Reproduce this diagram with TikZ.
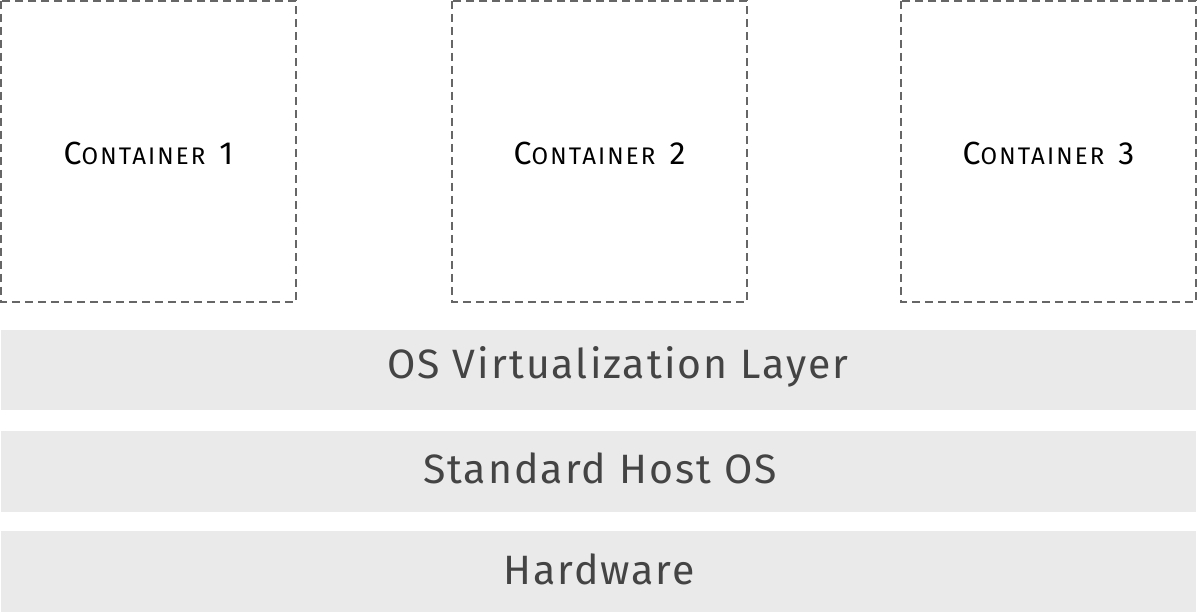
\documentclass[tikz,border=0pt]{standalone}
\usepackage{fontspec}
\setmainfont{Fira Sans}
\definecolor{layerfill}{HTML}{EAEAEA}
\definecolor{layertext}{HTML}{444444}
\definecolor{dashgray}{HTML}{666666}
\newcommand{\fakesc}[2]{{\fontsize{32}{32}\selectfont #1}{\fontsize{24}{24}\selectfont #2}}
\newcommand{\ctrlabel}[1]{\addfontfeature{LetterSpace=9}\fakesc{C}{ONTAINER}\hspace{14pt}{\fontsize{32}{32}\selectfont #1}}
\tikzset{
  containerbox/.style={draw=dashgray, line width=1.3pt, dash pattern=on 8pt off 5pt, fill=white},
  layerbox/.style={fill=layerfill, draw=none},
  layerlabel/.style={text=layertext, font=\fontsize{41}{41}\selectfont\addfontfeature{LetterSpace=5}, anchor=center},
  containerlabel/.style={text=black, anchor=center}
}
\begin{document}
\begin{tikzpicture}[x=1pt,y=-1pt]
\useasboundingbox (0,0) rectangle (1197,612);
% containers
\draw[containerbox] (1,1) rectangle (296,302);
\draw[containerbox] (452,1) rectangle (747,302);
\draw[containerbox] (901,1) rectangle (1196,302);
\node[containerlabel] (c1) at (148.5,153) {\ctrlabel{1}};
\node[containerlabel] (c2) at (599.5,153) {\ctrlabel{2}};
\node[containerlabel] (c3) at (1048.5,153) {\ctrlabel{3}};
% layers
\fill[layerbox] (1,330) rectangle (1196,410);
\fill[layerbox] (1,431) rectangle (1196,512);
\fill[layerbox] (1,531) rectangle (1196,612);
\node[layerlabel] (l1) at (618,367) {OS Virtualization Layer};
\node[layerlabel] (l2) at (600,468) {Standard Host OS};
\node[layerlabel] (l3) at (599,569) {Hardware};
\end{tikzpicture}
\end{document}
